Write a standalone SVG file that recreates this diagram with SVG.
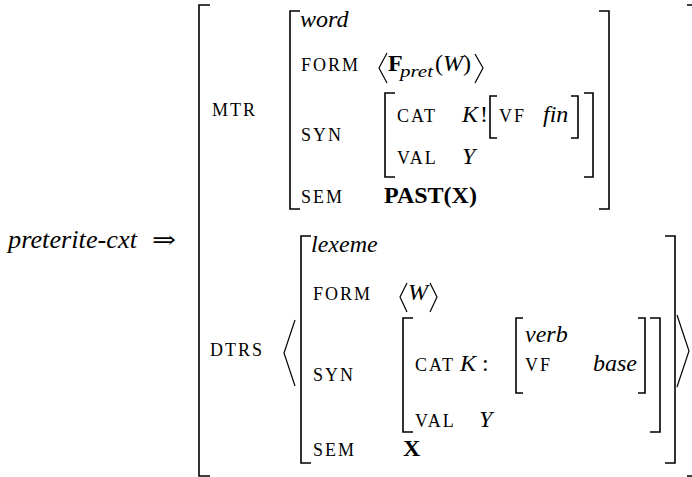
<svg xmlns="http://www.w3.org/2000/svg" width="692" height="477" viewBox="0 0 692 477">
<style>
text{font-family:"Liberation Serif","Times New Roman",serif;fill:#000}
.sc{font-size:18px;letter-spacing:2px}
.it{font-size:24px;font-style:italic}
.rm{font-size:24px}
.ar{font-size:24px;font-family:"DejaVu Serif",serif}
.bf{font-size:24px;font-weight:bold}
.br{fill:none;stroke:#000;stroke-width:1.6}
.ang{fill:none;stroke:#000;stroke-width:1.2}
</style>
<rect width="692" height="477" fill="#fff"/>
<g id="lhs">
<text class="it" x="8" y="248" style="font-size:26px" textLength="129" lengthAdjust="spacingAndGlyphs">preterite-cxt</text>
<text class="ar" x="152" y="248" textLength="24" lengthAdjust="spacingAndGlyphs">⇒</text>
</g>
<g id="outer">
<path class="br" d="M210 5H199V476H210"/>
<path class="br" d="M687 5H693V476H687"/>
</g>
<g id="mtr">
<text class="sc" x="212" y="116">MTR</text>
<path class="br" d="M300 11H290V209H300"/>
<path class="br" d="M599 11H609V209H599"/>
<text class="it" x="300" y="27">word</text>
<text class="sc" x="301" y="71">FORM</text>
<path class="ang" d="M387 53L379 68L387 83"/>
<text class="bf" x="388" y="71">F</text>
<text class="it" x="400" y="77" style="font-size:17px" textLength="33" lengthAdjust="spacingAndGlyphs">pret</text>
<text class="rm" x="435" y="71">(<tspan font-style="italic">W</tspan>)</text>
<path class="ang" d="M475 54L483 68L475 83"/>
<text class="sc" x="301" y="141">SYN</text>
<path class="br" d="M395 93H385V177H395"/>
<path class="br" d="M584 93H593V177H584"/>
<text class="sc" x="397" y="122">CAT</text>
<text class="it" x="462" y="122">K</text>
<text class="rm" x="480" y="122">!</text>
<path class="br" d="M497 96H490V138H497"/>
<path class="br" d="M571 96H578V138H571"/>
<text class="sc" x="499" y="122">VF</text>
<text class="it" x="543" y="122">fin</text>
<text class="sc" x="397" y="164">VAL</text>
<text class="it" x="462" y="164">Y</text>
<text class="sc" x="301" y="203">SEM</text>
<text class="bf" x="384" y="203">PAST(X)</text>
</g>
<g id="dtrs">
<text class="sc" x="210" y="356">DTRS</text>
<path class="ang" d="M295 320L284 353L295 386"/>
<path class="ang" d="M677 315L689 351L677 387"/>
<path class="br" d="M311 236H301V463H311"/>
<path class="br" d="M665 236H675V463H665"/>
<text class="it" x="311" y="252">lexeme</text>
<text class="sc" x="313" y="300">FORM</text>
<path class="ang" d="M407 283L400 297L407 312"/>
<text class="it" x="408" y="300">W</text>
<path class="ang" d="M430 283L437 297L430 312"/>
<text class="sc" x="313" y="381">SYN</text>
<path class="br" d="M413 318H403V432H413"/>
<path class="br" d="M650 318H660V432H650"/>
<text class="sc" x="415" y="371">CAT</text>
<text class="it" x="460" y="371">K</text>
<text class="rm" x="482" y="371">:</text>
<path class="br" d="M523 318H516V393H523"/>
<path class="br" d="M638 318H645V393H638"/>
<text class="it" x="525" y="342">verb</text>
<text class="sc" x="525" y="371">VF</text>
<text class="it" x="593" y="371">base</text>
<text class="sc" x="415" y="427">VAL</text>
<text class="it" x="479" y="427">Y</text>
<text class="sc" x="313" y="456">SEM</text>
<text class="bf" x="403" y="456">X</text>
</g>
</svg>
